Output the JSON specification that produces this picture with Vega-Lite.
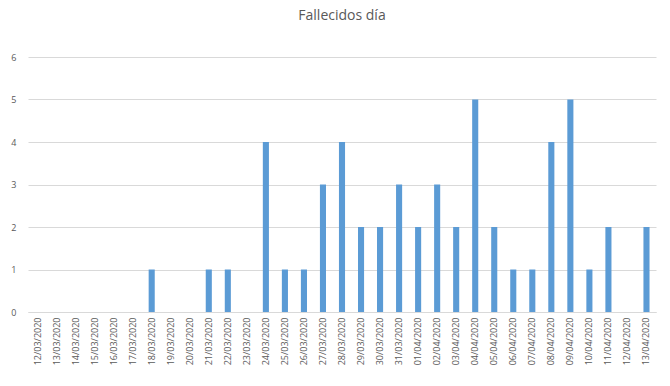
{
  "$schema": "https://vega.github.io/schema/vega-lite/v6.json",
  "width": 628,
  "height": 255,
  "autosize": {"type": "none"},
  "padding": {"left": 28, "top": 57, "right": 14, "bottom": 74},
  "background": "white",
  "title": {"text": "Fallecidos día", "font": "Open Sans", "fontSize": 14, "fontWeight": "normal", "color": "#595959", "offset": 30, "anchor": "middle"},
  "data": {"values": [
    {"fecha": "12/03/2020", "v": 0},
    {"fecha": "13/03/2020", "v": 0},
    {"fecha": "14/03/2020", "v": 0},
    {"fecha": "15/03/2020", "v": 0},
    {"fecha": "16/03/2020", "v": 0},
    {"fecha": "17/03/2020", "v": 0},
    {"fecha": "18/03/2020", "v": 1},
    {"fecha": "19/03/2020", "v": 0},
    {"fecha": "20/03/2020", "v": 0},
    {"fecha": "21/03/2020", "v": 1},
    {"fecha": "22/03/2020", "v": 1},
    {"fecha": "23/03/2020", "v": 0},
    {"fecha": "24/03/2020", "v": 4},
    {"fecha": "25/03/2020", "v": 1},
    {"fecha": "26/03/2020", "v": 1},
    {"fecha": "27/03/2020", "v": 3},
    {"fecha": "28/03/2020", "v": 4},
    {"fecha": "29/03/2020", "v": 2},
    {"fecha": "30/03/2020", "v": 2},
    {"fecha": "31/03/2020", "v": 3},
    {"fecha": "01/04/2020", "v": 2},
    {"fecha": "02/04/2020", "v": 3},
    {"fecha": "03/04/2020", "v": 2},
    {"fecha": "04/04/2020", "v": 5},
    {"fecha": "05/04/2020", "v": 2},
    {"fecha": "06/04/2020", "v": 1},
    {"fecha": "07/04/2020", "v": 1},
    {"fecha": "08/04/2020", "v": 4},
    {"fecha": "09/04/2020", "v": 5},
    {"fecha": "10/04/2020", "v": 1},
    {"fecha": "11/04/2020", "v": 2},
    {"fecha": "12/04/2020", "v": 0},
    {"fecha": "13/04/2020", "v": 2}
  ]},
  "mark": {"type": "bar", "color": "#5b9bd5"},
  "encoding": {
    "x": {
      "field": "fecha", "type": "ordinal", "sort": null,
      "scale": {"paddingInner": 0.68, "paddingOuter": 0.34},
      "axis": {"title": null, "labelAngle": -90, "labelFont": "Open Sans", "labelFontSize": 9, "labelColor": "#595959", "labelPadding": 5, "domainColor": "#d9d9d9", "ticks": false, "grid": false}
    },
    "y": {
      "field": "v", "type": "quantitative",
      "scale": {"domain": [0, 6], "nice": false},
      "axis": {"title": null, "values": [0, 1, 2, 3, 4, 5, 6], "labelOverlap": false, "labelFont": "Open Sans", "labelFontSize": 9, "labelColor": "#595959", "labelPadding": 12, "domain": false, "ticks": false, "gridColor": "#d9d9d9", "gridWidth": 1}
    }
  },
  "config": {"view": {"stroke": null}}
}
